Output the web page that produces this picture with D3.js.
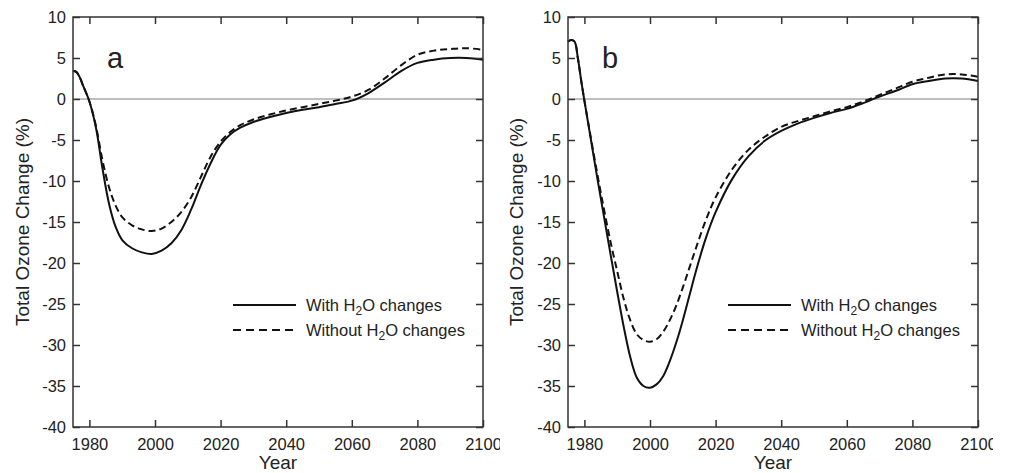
<!DOCTYPE html>
<html>
<head>
<meta charset="utf-8">
<script src="https://cdn.jsdelivr.net/npm/d3@7"></script>
<style>
  body { margin: 0; background: #fff; }
  svg { font-family: "Liberation Sans", Arial, sans-serif; }
</style>
</head>
<body>
<svg id="chart" width="1009" height="473"></svg>
<script>
// years and total ozone change (%)
const yearsA = [1975, 1976, 1977, 1978, 1980, 1982, 1984, 1986, 1988, 1990, 1993, 1996, 1999, 2002, 2005, 2008, 2011, 2014, 2017, 2020, 2023, 2026, 2030, 2035, 2040, 2045, 2050, 2055, 2060, 2065, 2070, 2075, 2080, 2085, 2090, 2095, 2100]
const withH2OA = [3.4, 3.3, 2.7, 1.7, -0.3, -3.5, -8.5, -12.8, -15.6, -17.2, -18.2, -18.7, -18.9, -18.5, -17.6, -16.0, -13.5, -10.5, -7.8, -5.6, -4.3, -3.5, -2.8, -2.2, -1.7, -1.3, -1.0, -0.6, -0.2, 0.7, 2.0, 3.4, 4.4, 4.8, 5.0, 5.0, 4.8]
const withoutH2OA = [3.4, 3.3, 2.7, 1.7, -0.3, -3.3, -7.5, -10.8, -13.0, -14.4, -15.4, -15.9, -16.1, -15.8, -15.0, -13.8, -12.0, -9.5, -7.0, -5.2, -4.0, -3.2, -2.5, -1.9, -1.4, -1.0, -0.6, -0.2, 0.3, 1.1, 2.5, 4.1, 5.4, 5.9, 6.1, 6.2, 6.0]

const yearsB = [1975, 1976, 1977, 1978, 1979, 1980, 1982, 1984, 1986, 1988, 1990, 1992, 1994, 1996, 1998, 2000, 2002, 2004, 2006, 2008, 2010, 2012, 2014, 2017, 2020, 2025, 2030, 2035, 2040, 2045, 2050, 2055, 2060, 2065, 2070, 2075, 2080, 2085, 2090, 2095, 2100]
const withH2OB = [7.0, 7.2, 7.0, 5.0, 2.3, -0.2, -5.0, -9.8, -14.4, -19.0, -23.5, -27.8, -31.5, -34.0, -35.0, -35.2, -34.8, -33.8, -32.0, -29.7, -27.0, -24.0, -21.0, -17.0, -13.8, -9.8, -7.0, -5.1, -3.9, -3.0, -2.3, -1.7, -1.2, -0.5, 0.3, 1.0, 1.8, 2.2, 2.5, 2.5, 2.2]
const withoutH2OB = [7.0, 7.2, 7.0, 5.0, 2.3, -0.2, -4.8, -9.3, -13.5, -17.5, -21.0, -24.4, -27.0, -28.7, -29.4, -29.6, -29.3, -28.4, -27.0, -25.2, -23.0, -20.6, -18.2, -14.8, -12.0, -8.6, -6.2, -4.6, -3.4, -2.7, -2.1, -1.5, -1.0, -0.3, 0.5, 1.3, 2.1, 2.6, 3.0, 3.0, 2.7]

const xTicks = [1980, 2000, 2020, 2040, 2060, 2080, 2100]
const yTicks = [-40, -35, -30, -25, -20, -15, -10, -5, 0, 5, 10]
const seriesNames = ["With H2O changes", "Without H2O changes"]

const panels = [
  {name: "a", left: 73, right: 483, clip: [0, 500], labelX: 22, years: yearsA, withH: withH2OA, withoutH: withoutH2OA},
  {name: "b", left: 568, right: 978, clip: [500, 993], labelX: 516, years: yearsB, withH: withH2OB, withoutH: withoutH2OB}
]
const plotTop = 17, plotBottom = 427
const ink = "#222"

const svg = d3.select("#chart")

panels.forEach((p, idx) => {
  const x = d3.scaleLinear().domain([1975, 2100]).range([p.left, p.right])
  const y = d3.scaleLinear().domain([-40, 10]).range([plotBottom, plotTop])

  svg.append("clipPath").attr("id", "clip" + idx)
    .append("rect").attr("x", p.clip[0]).attr("y", 0)
    .attr("width", p.clip[1] - p.clip[0]).attr("height", 473)

  const g = svg.append("g").attr("clip-path", `url(#clip${idx})`)

  // zero line
  g.append("line")
    .attr("x1", p.left).attr("x2", p.right)
    .attr("y1", y(0)).attr("y2", y(0))
    .attr("stroke", "#a8a8a8").attr("stroke-width", 1.5)

  const line = d3.line()
    .x((d, i) => x(p.years[i]))
    .y(d => y(d))
    .curve(d3.curveCatmullRom.alpha(0.5))

  g.append("path").datum(p.withoutH)
    .attr("d", line).attr("fill", "none")
    .attr("stroke", "#111").attr("stroke-width", 2)
    .attr("stroke-dasharray", "7,4")

  g.append("path").datum(p.withH)
    .attr("d", line).attr("fill", "none")
    .attr("stroke", "#111").attr("stroke-width", 2)

  // axes, ticks pointing inward
  const styleAxis = sel => {
    sel.select(".domain").remove()
    sel.selectAll(".tick line").attr("stroke", "#333").attr("stroke-width", 1.5)
    sel.selectAll("text").attr("fill", ink).style("font-size", "16.5px")
  }

  g.append("g").attr("transform", `translate(0,${plotBottom})`)
    .call(d3.axisBottom(x).tickValues(xTicks).tickFormat(d => d).tickSizeInner(-7).tickSizeOuter(0).tickPadding(11))
    .call(styleAxis)
  g.append("g").attr("transform", `translate(0,${plotTop})`)
    .call(d3.axisTop(x).tickValues(xTicks).tickFormat("").tickSizeInner(-7).tickSizeOuter(0))
    .call(styleAxis)
  g.append("g").attr("transform", `translate(${p.left},0)`)
    .call(d3.axisLeft(y).tickValues(yTicks).tickFormat(d => d).tickSizeInner(-7).tickSizeOuter(0).tickPadding(7))
    .call(styleAxis)
  g.append("g").attr("transform", `translate(${p.right},0)`)
    .call(d3.axisRight(y).tickValues(yTicks).tickFormat("").tickSizeInner(-7).tickSizeOuter(0))
    .call(styleAxis)

  g.append("rect")
    .attr("x", p.left).attr("y", plotTop)
    .attr("width", p.right - p.left).attr("height", plotBottom - plotTop)
    .attr("fill", "none").attr("stroke", "#333").attr("stroke-width", 1.5)

  // axis titles
  g.append("text")
    .attr("x", (p.left + p.right) / 2).attr("y", 469)
    .attr("text-anchor", "middle").attr("fill", ink)
    .style("font-size", "19px").text("Year")
  g.append("text")
    .attr("transform", `translate(${p.labelX},${(plotTop + plotBottom) / 2}) rotate(-90)`)
    .attr("text-anchor", "middle").attr("dy", "0.35em").attr("fill", ink)
    .style("font-size", "19px").text("Total Ozone Change (%)")

  // panel letter
  g.append("text")
    .attr("x", p.left + 34).attr("y", 68)
    .attr("fill", ink).style("font-size", "29px").text(p.name)

  // legend
  const leg = g.append("g").attr("transform", `translate(${p.left + 160},305)`)
  seriesNames.forEach((s, i) => {
    leg.append("line")
      .attr("x1", 0).attr("x2", 63).attr("y1", i * 25).attr("y2", i * 25)
      .attr("stroke", "#111").attr("stroke-width", 2)
      .attr("stroke-dasharray", i ? "8,5" : null)
    const t = leg.append("text")
      .attr("x", 73).attr("y", i * 25).attr("dy", "0.35em")
      .attr("fill", ink).style("font-size", "16.5px")
    const parts = s.split("H2O")
    t.append("tspan").text(parts[0] + "H")
    t.append("tspan").attr("dy", "4").style("font-size", "12px").text("2")
    t.append("tspan").attr("dy", "-4").text("O" + parts[1])
  })
})
</script>
</body>
</html>
